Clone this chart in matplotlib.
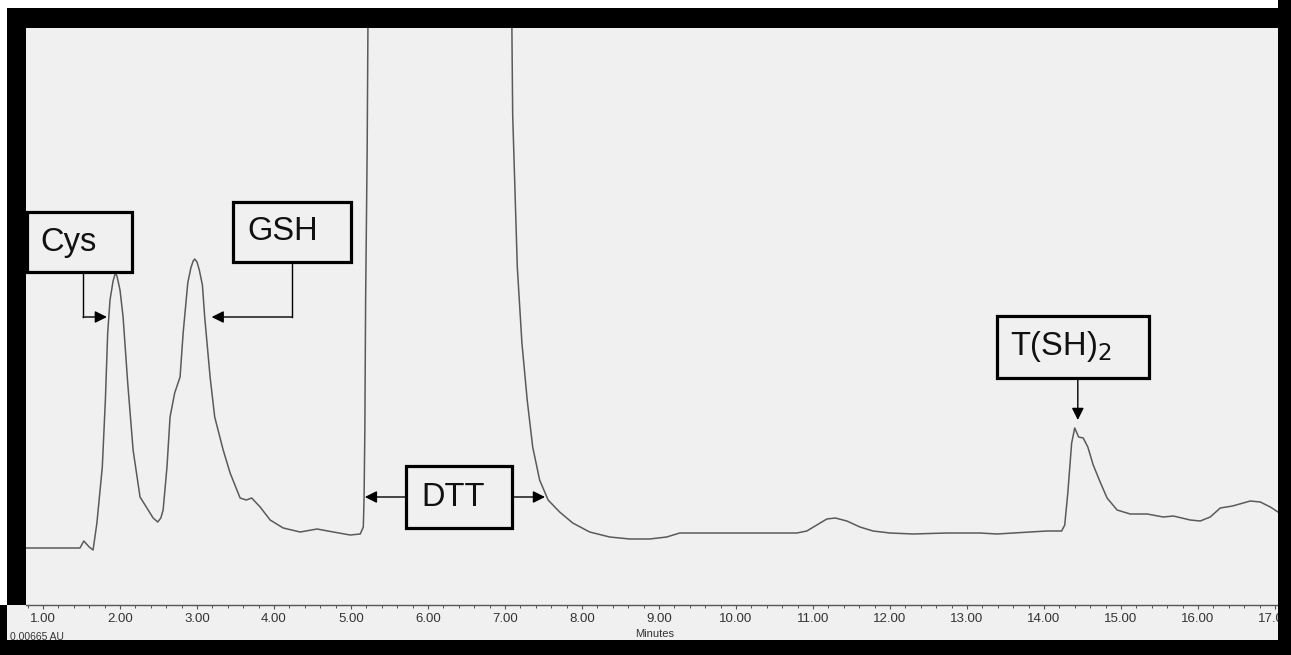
import numpy as np
import matplotlib.pyplot as plt
from matplotlib.patches import Rectangle
from matplotlib.ticker import MultipleLocator, FormatStrFormatter

# retention time (min) and detector response (arbitrary units, 10 = 1 division)
time_min = [
    0.78, 1.48, 1.53, 1.60, 1.65, 1.70, 1.77, 1.81, 1.84, 1.87, 1.91, 1.94,
    1.96, 2.00, 2.04, 2.10, 2.17, 2.26, 2.39, 2.43, 2.49, 2.53, 2.56, 2.61,
    2.65, 2.71, 2.78, 2.82, 2.88, 2.92, 2.95, 2.97, 3.00, 3.03, 3.07, 3.10,
    3.17, 3.23, 3.34, 3.43, 3.56, 3.64, 3.71, 3.82, 3.95, 4.12, 4.34, 4.56,
    4.77, 4.99, 5.12, 5.16, 5.17, 5.18, 5.19, 5.21, 5.22, 5.27, 6.16, 7.00,
    7.04, 7.10, 7.16, 7.22, 7.29, 7.36, 7.45, 7.56, 7.71, 7.88, 8.10, 8.36,
    8.62, 8.88, 9.10, 9.27, 9.79, 10.79, 10.92, 11.05, 11.18, 11.29, 11.44,
    11.61, 11.78, 12.00, 12.30, 12.74, 13.17, 13.39, 13.82, 14.04, 14.23, 14.27,
    14.31, 14.36, 14.40, 14.45, 14.51, 14.57, 14.64, 14.73, 14.82, 14.95, 15.12,
    15.34, 15.55, 15.68, 15.90, 16.03, 16.16, 16.29, 16.45, 16.68, 16.81, 16.94,
    17.04,
]
signal = [
    5.7, 5.7, 6.4, 5.8, 5.5, 8.2, 13.8, 20.5, 27.2, 30.5, 32.4, 33.2,
    32.9, 31.5, 28.8, 22.2, 15.5, 10.8, 9.2, 8.7, 8.3, 8.7, 9.5, 13.8,
    18.8, 21.2, 22.8, 27.2, 32.2, 33.7, 34.4, 34.6, 34.3, 33.5, 32.0, 28.8,
    22.8, 18.8, 15.5, 13.2, 10.7, 10.5, 10.7, 9.8, 8.5, 7.7, 7.3, 7.6,
    7.3, 7.0, 7.1, 7.8, 10.8, 17.5, 30.5, 45.5, 57.7, 140.0, 210.0, 140.0,
    100.0, 49.0, 33.8, 26.2, 20.4, 15.8, 12.5, 10.5, 9.3, 8.2, 7.3, 6.8,
    6.6, 6.6, 6.8, 7.2, 7.2, 7.2, 7.4, 8.0, 8.6, 8.7, 8.4,
    7.8, 7.4, 7.2, 7.1, 7.2, 7.2, 7.1, 7.3, 7.4, 7.4, 8.0,
    11.2, 16.2, 17.7, 16.8, 16.7, 15.8, 14.0, 12.3, 10.7, 9.5, 9.1,
    9.1, 8.8, 8.9, 8.5, 8.4, 8.8, 9.7, 9.9, 10.4, 10.3, 9.8,
    9.3,
]

# peak labels: text, box (t0, t1, y_bottom, y_top), text anchor (t, y)
peak_labels = ["Cys", "GSH", "DTT", r"T(SH)$_2$"]
label_boxes = [
    (0.79, 2.16, 33.3, 39.3),
    (3.47, 5.00, 34.3, 40.3),
    (5.71, 7.09, 7.7, 13.9),
    (13.39, 15.36, 22.7, 28.9),
]
label_text_pos = [(0.96, 36.3), (3.66, 37.3), (5.92, 10.8), (13.56, 25.8)]

W, H = 1291, 655
BG = "#f0f0f0"

plt.rcParams["font.family"] = ["Liberation Sans", "DejaVu Sans"]

fig = plt.figure(figsize=(W / 100, H / 100), dpi=100, facecolor="black")


def px_rect(x0, y0, x1, y1, **kw):
    """Figure-level rectangle given in pixel coords (origin top-left)."""
    r = Rectangle((x0 / W, 1 - y1 / H), (x1 - x0) / W, (y1 - y0) / H,
                  transform=fig.transFigure, linewidth=0, **kw)
    fig.add_artist(r)
    return r


# thin white margin, gray strip under the axis, black mask on the right
px_rect(0, 0, W, 8, facecolor="white", zorder=-2)
px_rect(0, 0, 7, 605, facecolor="white", zorder=-2)
px_rect(7, 605, 1278, 640, facecolor=BG, zorder=-1)
px_rect(1278, 0, W, H, facecolor="black", zorder=5)

ax = fig.add_axes([26 / W, 1 - 605 / H, (1278 - 26) / W, (605 - 28) / H])
ax.set_facecolor(BG)
ax.set_xlim(0.779, 17.04)
ax.set_ylim(0, 57.7)

ax.plot(time_min, signal, color="#5a5a5a", linewidth=1.1,
        solid_joinstyle="round")

for s in ("top", "left", "right"):
    ax.spines[s].set_visible(False)
ax.spines["bottom"].set_color("#555555")
ax.spines["bottom"].set_linewidth(1.0)
ax.set_yticks([])
ax.xaxis.set_major_locator(MultipleLocator(1.0))
ax.xaxis.set_minor_locator(MultipleLocator(0.2))
ax.xaxis.set_major_formatter(FormatStrFormatter("%.2f"))
ax.tick_params(axis="x", which="major", direction="out", length=3, width=0.8,
               color="#555555", labelsize=9.5, labelcolor="#333333", pad=2.5)
ax.tick_params(axis="x", which="minor", direction="out", length=2, width=0.7,
               color="#555555")

fig.text(655 / W, 1 - 634 / H, "Minutes", fontsize=8, color="#333333",
         ha="center", va="center")
fig.text(10 / W, 1 - 637 / H, "0.00665 AU", fontsize=7.5, color="#333333",
         ha="left", va="center")

# labelled boxes
for lab, (t0, t1, yb, yt), (tx, ty) in zip(peak_labels, label_boxes, label_text_pos):
    ax.add_patch(Rectangle((t0, yb), t1 - t0, yt - yb, facecolor=BG,
                           edgecolor="black", linewidth=2.3, zorder=4,
                           clip_on=False))
    ax.text(tx, ty, lab, fontsize=23.5, color="#111111", ha="left",
            va="center", zorder=5)

arrow_kw = dict(arrowstyle="-|>,head_length=0.6,head_width=0.3",
                color="black", linewidth=1.0, shrinkA=0, shrinkB=0,
                mutation_scale=12)


def elbow(points):
    """Polyline ending in an arrowhead."""
    xs, ys = zip(*points)
    ax.plot(xs[:-1], ys[:-1], color="black", linewidth=1.0, zorder=3)
    ax.annotate("", xy=points[-1], xytext=points[-2], arrowprops=arrow_kw,
                zorder=3)


elbow([(1.52, 33.3), (1.52, 28.8), (1.83, 28.8)])
elbow([(4.23, 34.3), (4.23, 28.8), (3.19, 28.8)])
elbow([(5.71, 10.8), (5.18, 10.8)])
elbow([(7.09, 10.8), (7.52, 10.8)])
elbow([(14.44, 22.7), (14.44, 18.5)])

fig.savefig("out.png", dpi=100, facecolor=fig.get_facecolor())
